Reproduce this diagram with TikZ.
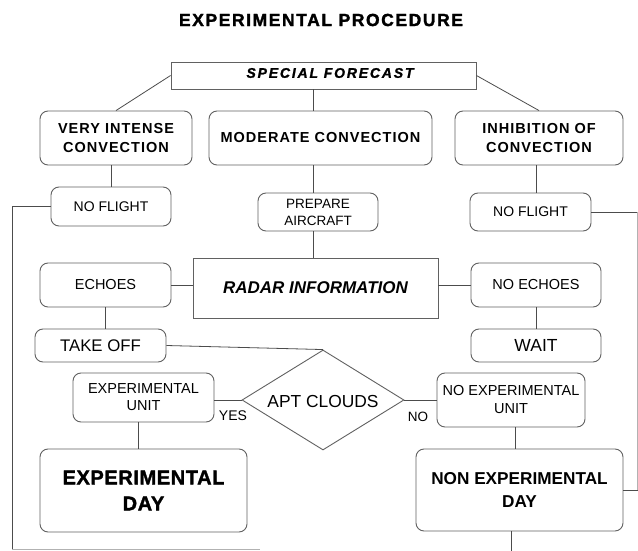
\documentclass[tikz,border=0pt]{standalone}
\usepackage{fontspec}
\setmainfont{Liberation Sans}
\usetikzlibrary{shapes.geometric}
\newfontface\titlef{Liberation Sans Bold}[FakeBold=1.8,LetterSpace=9]
\newfontface\spacedb{Liberation Sans Bold}[LetterSpace=7]
\newfontface\sfbi{Liberation Sans Bold Italic}[FakeBold=1.2,LetterSpace=13]
\newfontface\radarf{Liberation Sans Bold Italic}
\newfontface\dayf{Liberation Sans Bold}[FakeBold=1.6,LetterSpace=3]
\newfontface\boldf{Liberation Sans Bold}
\begin{document}
\begin{tikzpicture}[x=1pt,y=-1pt,
  box/.style={draw=black!62,line width=0.9pt,rounded corners=8pt,inner sep=0pt,align=center},
  sqbox/.style={draw=black!62,line width=0.9pt,inner sep=0pt,align=center},
  conn/.style={draw=black!70,line width=0.8pt},
  faint/.style={draw=black!30,line width=0.8pt},
  lbl/.style={inner sep=0pt,align=center}]
\useasboundingbox (0,0) rectangle (638,551);
\fill[white] (0,0) rectangle (638,551);

\node[lbl,font=\titlef\fontsize{17.5}{20}\selectfont] (title) at (321,20) {EXPERIMENTAL PROCEDURE};

\node[sqbox,minimum width=305pt,minimum height=27pt] (sf) at (323.5,75.5) {};
\node[lbl,font=\sfbi\fontsize{14}{16}\selectfont] (sft) at (330,73) {SPECIAL FORECAST};

\node[box,minimum width=152pt,minimum height=54pt,font=\spacedb\fontsize{14.5}{19.5}\selectfont] (vic) at (116,138)
  {VERY INTENSE\\CONVECTION};
\node[box,minimum width=223pt,minimum height=54pt,font=\spacedb\fontsize{14.5}{19.5}\selectfont] (mc) at (320.5,138)
  {MODERATE CONVECTION};
\node[box,minimum width=168pt,minimum height=54pt,font=\spacedb\fontsize{14.5}{19.5}\selectfont] (ioc) at (539,138)
  {INHIBITION OF\\CONVECTION};

\node[box,minimum width=120pt,minimum height=39pt,font=\fontsize{14}{16}\selectfont] (nf1) at (111,206.5)
  {NO FLIGHT};
\node[box,minimum width=120pt,minimum height=38pt,font=\fontsize{13.5}{17}\selectfont] (pa) at (318,212)
  {PREPARE\\AIRCRAFT};
\node[box,minimum width=121pt,minimum height=38pt,font=\fontsize{14}{16}\selectfont] (nf2) at (530.5,212)
  {NO FLIGHT};

\node[sqbox,minimum width=245pt,minimum height=60pt,font=\radarf\fontsize{17}{19}\selectfont] (radar) at (315.5,288)
  {RADAR INFORMATION};
\node[box,minimum width=131pt,minimum height=44pt,font=\fontsize{14.5}{16}\selectfont] (echoes) at (105.5,285)
  {ECHOES};
\node[box,minimum width=130pt,minimum height=44pt,font=\fontsize{14.5}{16}\selectfont] (noechoes) at (536,285)
  {NO ECHOES};

\node[box,minimum width=131pt,minimum height=33pt,font=\fontsize{16.8}{18}\selectfont] (takeoff) at (100.5,345.5)
  {TAKE OFF};
\node[box,minimum width=130pt,minimum height=33pt,font=\fontsize{17.5}{18}\selectfont] (wait) at (536,345.5)
  {WAIT};

\node[draw=black!62,line width=0.9pt,diamond,aspect=1.62,inner sep=0pt,
  minimum width=162pt,minimum height=100pt] (apt) at (323,400) {};
\node[lbl,font=\fontsize{17.4}{19}\selectfont] (aptt) at (323,402) {APT CLOUDS};

\node[box,minimum width=141pt,minimum height=49pt,font=\fontsize{14.5}{17}\selectfont] (eu) at (143.5,397.5)
  {EXPERIMENTAL\\UNIT};
\node[box,minimum width=148pt,minimum height=54pt,font=\fontsize{14.5}{18}\selectfont] (neu) at (511,400)
  {NO EXPERIMENTAL\\UNIT};

\node[lbl,font=\fontsize{14}{16}\selectfont] (yes) at (233,416) {YES};
\node[lbl,font=\fontsize{13.5}{16}\selectfont] (no) at (418,417) {NO};

\node[box,minimum width=207pt,minimum height=83pt,font=\dayf\fontsize{20}{26}\selectfont] (ed) at (143.5,490.5)
  {EXPERIMENTAL\\DAY};
\node[box,minimum width=207pt,minimum height=82pt,font=\boldf\fontsize{17.2}{23.5}\selectfont] (ned) at (519.5,490)
  {NON EXPERIMENTAL\\DAY};

% helper coordinates
\coordinate (cx) at (313,0);
\coordinate (lx) at (12,0);
\coordinate (rx) at (637,0);
\coordinate (botl) at (12,549);
\coordinate (botm) at (260,549);
\coordinate (nedx) at (511,0);
\coordinate (nedb) at (511,551);
\coordinate (nedr) at (638,490);

% connectors
\draw[conn] (sf.west) -- (vic.north);
\draw[conn] (sf.east) -- (ioc.north);
\draw[conn] (sf.south -| cx) -- (mc.north -| cx);
\draw[conn] (mc.south -| cx) -- (pa.north -| cx);
\draw[conn] (pa.south -| cx) -- (radar.north -| cx);
\draw[conn] (vic.south -| nf1.north) -- (nf1.north);
\draw[conn] (ioc.south -| 536,0) -- (nf2.north -| 536,0);
\draw[conn] (nf1.west) -- (nf1.west -| lx) -- (botl);
\draw[faint] (botl) -- (botm);
\draw[conn] (nf2.east) -- (nf2.east -| rx);
\draw[faint] (nf2.east -| rx) -- (nedr -| rx);
\draw[conn] (echoes.east) -- (echoes.east -| radar.west);
\draw[conn] (radar.east |- noechoes.west) -- (noechoes.west);
\draw[conn] (echoes.south) -- (echoes.south |- takeoff.north);
\draw[conn] (noechoes.south) -- (wait.north);
\draw[conn] (takeoff.east) -- (apt.north);
\draw[conn] (eu.east |- apt.west) -- (apt.west);
\draw[conn] (apt.east) -- (apt.east -| neu.west);
\draw[conn] (eu.south -| 138,0) -- (ed.north -| 138,0);
\draw[conn] (neu.south -| 515,0) -- (ned.north -| 515,0);
\draw[conn] (ned.south -| nedx) -- (nedb);
\draw[conn] (ned.east |- nedr) -- (nedr);
\end{tikzpicture}
\end{document}
